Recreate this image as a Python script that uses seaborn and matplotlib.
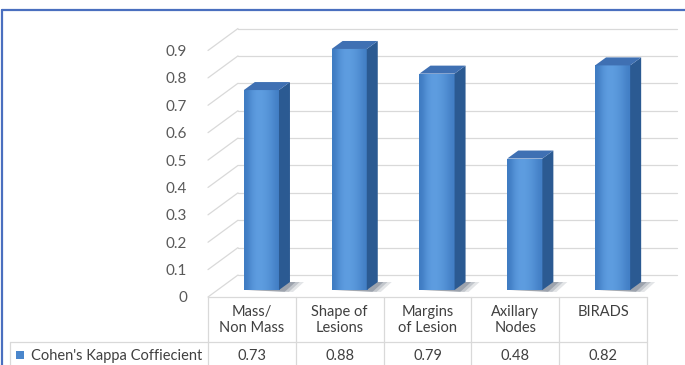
import numpy as np
import pandas as pd
import matplotlib
matplotlib.use("Agg")
import matplotlib.pyplot as plt
import seaborn as sns
from matplotlib.transforms import Affine2D, offset_copy, blended_transform_factory
from matplotlib.patches import Polygon, Rectangle
from matplotlib.lines import Line2D

# ---- data ----
categories = ["Mass/\nNon Mass", "Shape of\nLesions", "Margins\nof Lesion", "Axillary\nNodes", "BIRADS"]
kappa = [0.73, 0.88, 0.79, 0.48, 0.82]
series_name = "Cohen's Kappa Coffiecient"
y_ticks = [0, 0.1, 0.2, 0.3, 0.4, 0.5, 0.6, 0.7, 0.8, 0.9]
y_tick_labels = ["0", "0.1", "0.2", "0.3", "0.4", "0.5", "0.6", "0.7", "0.8", "0.9"]

sns.set_theme(style="white")
plt.rcParams["font.family"] = ["Lato", "DejaVu Sans"]

W, H = 685, 365
TEXT = "#404040"
GRID = "#d9d9d9"
FRONT = "#4f8fd6"
SIDE = "#2b5a92"
TOP = "#3f70b3"

fig = plt.figure(figsize=(W / 100, H / 100), dpi=100)
fig.patch.set_facecolor("white")

# pixel (top-left origin) -> figure transform for frame/table decoration
pix = Affine2D().scale(1 / W, -1 / H).translate(0, 1) + fig.transFigure

# front plane of the chart: value 0 on the table top, columns 208..647 px
ax = fig.add_axes([208 / W, (H - 297) / H, 439 / W, 246.5 / H])
df = pd.DataFrame({"category": categories, "kappa": kappa})
sns.barplot(data=df, x="category", y="kappa", ax=ax, width=0.4,
            color=FRONT, saturation=1, edgecolor="none", zorder=3)
ax.set_xlim(-0.5, len(categories) - 0.5)
ax.set_ylim(0, 0.9)
for s in ax.spines.values():
    s.set_visible(False)
ax.set_xlabel("")
ax.set_ylabel("")
ax.set_xticks([])
ax.set_yticks(y_ticks)
ax.set_yticklabels(y_tick_labels)
ax.tick_params(axis="y", length=0, pad=15, labelsize=11, labelcolor="#595959")
ax.set_facecolor("none")

# display-pixel -> data scale
sx = (ax.get_xlim()[1] - ax.get_xlim()[0]) / ax.bbox.width
sy = (ax.get_ylim()[1] - ax.get_ylim()[0]) / ax.bbox.height

# depth of the walls and placement of the bars inside the box
wall_dx, wall_dy = 30 * sx, 22 * sy
bar_px = (9.5, 7)
bar_dx, bar_dy = bar_px[0] * sx, bar_px[1] * sy
depth_dx, depth_dy = 11 * sx, 8 * sy
x_lo, x_hi = ax.get_xlim()

# back wall and side wall gridlines
for v in y_ticks:
    ax.add_line(Line2D([x_lo + wall_dx, x_hi + wall_dx], [v + wall_dy, v + wall_dy],
                       color=GRID, lw=0.9, clip_on=False, zorder=0))
    ax.add_line(Line2D([x_lo, x_lo + wall_dx], [v, v + wall_dy],
                       color=GRID, lw=0.9, clip_on=False, zorder=0))

# bars: shift front faces into the box, then add side, top, shading and shadow
bar_trans = offset_copy(ax.transData, fig=fig, x=bar_px[0], y=bar_px[1], units="dots")
grad = np.array([[0.1, 0.45, 0.6, 0.6, 0.5, 0.35, 0.15]])
cmap = matplotlib.colors.LinearSegmentedColormap.from_list("face", ["#3f7bc2", "#5e9de0"])
for p in list(ax.patches):
    p.set_transform(bar_trans)
    p.set_clip_on(False)
    x0, w, h = p.get_x(), p.get_width(), p.get_height()
    fx0, fx1 = x0 + bar_dx, x0 + w + bar_dx
    base = bar_dy
    # soft floor shadow
    for k, a in [(1.0, 0.12), (0.7, 0.16), (0.4, 0.22)]:
        ax.add_patch(Polygon([(fx0 + 6 * sx * k, base), (fx1 + 14 * sx * k, base - 2 * sy),
                              (fx1 + depth_dx + 14 * sx * k, base + depth_dy),
                              (fx0 + depth_dx, base + depth_dy)],
                             closed=True, facecolor="#1a2a40", alpha=a, edgecolor="none",
                             clip_on=False, zorder=1))
    img = ax.imshow(grad, extent=(x0, x0 + w, 0, h), transform=bar_trans, cmap=cmap,
                    aspect="auto", interpolation="bicubic", zorder=3.5)
    img.set_clip_path(p)
    ax.add_patch(Polygon([(fx1, base), (fx1 + depth_dx, base + depth_dy),
                          (fx1 + depth_dx, base + h + depth_dy), (fx1, base + h)],
                         closed=True, facecolor=SIDE, edgecolor="none", clip_on=False, zorder=4))
    ax.add_patch(Polygon([(fx0, base + h), (fx1, base + h),
                          (fx1 + depth_dx, base + h + depth_dy), (fx0 + depth_dx, base + h + depth_dy)],
                         closed=True, facecolor=TOP, edgecolor="none", clip_on=False, zorder=4))
ax.set_xlim(x_lo, x_hi)
ax.set_ylim(0, 0.9)

# ---- data table ----
tab = blended_transform_factory(ax.transData, pix)
n = len(categories)
ax.add_line(Line2D([x_lo, x_hi], [297, 297], transform=tab, color=GRID, lw=0.9, clip_on=False))
for i in range(n + 1):
    ax.add_line(Line2D([i - 0.5, i - 0.5], [297, 366], transform=tab, color=GRID, lw=0.9,
                       clip_on=False))
ax.add_line(Line2D([x_lo, x_hi], [342, 342], transform=tab, color=GRID, lw=0.9, clip_on=False))
fig.add_artist(Line2D([10, 208], [342, 342], transform=pix, color=GRID, lw=0.9))
fig.add_artist(Line2D([10, 10], [342, 366], transform=pix, color=GRID, lw=0.9))

for i, (c, v) in enumerate(zip(categories, kappa)):
    ax.text(i, 305, c, transform=tab, ha="center", va="top", fontsize=10.5, color=TEXT,
            linespacing=1.2, clip_on=False)
    ax.text(i, 356, f"{v:.2f}", transform=tab, ha="center", va="center", fontsize=10.5,
            color=TEXT, clip_on=False)

fig.add_artist(Rectangle((16, 351), 8, 8, transform=pix, facecolor="#4a86cc", edgecolor="none"))
fig.text(0, 0, series_name, transform=pix, fontsize=10.5, color=TEXT)
fig.texts[-1].set_position((31, 356))
fig.texts[-1].set_va("center")

# outer frame (top and left edges)
fig.add_artist(Line2D([2, W], [10, 10], transform=pix, color="#4a6fbf", lw=1.6))
fig.add_artist(Line2D([2, 2], [10, H], transform=pix, color="#4a6fbf", lw=1.6))

fig.savefig("out.png", dpi=100)
